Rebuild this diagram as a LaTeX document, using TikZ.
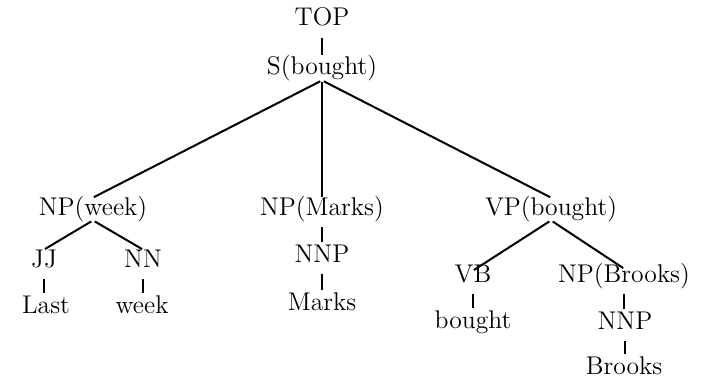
\documentclass[tikz,border=0pt]{standalone}
\usepackage{fontspec}
\tikzset{
  lbl/.style={inner sep=0pt, anchor=base, text height=8.5pt, text depth=2.5pt,
    font=\fontsize{12.8}{14}\selectfont\addfontfeatures{LetterSpace=8,FakeBold=2.5}},
  branch/.style={line width=1pt, shorten <=1pt, shorten >=0.5pt},
  unary/.style={line width=1pt, shorten <=3.5pt, shorten >=1.5pt}
}
\begin{document}
\begin{tikzpicture}[x=0.5pt, y=-0.5pt]
  \useasboundingbox (0,0) rectangle (705,379);
  % nodes placed on their baselines
  \node[lbl] (top)    at (322,26)  {TOP};
  \node[lbl] (s)      at (322,75)  {S(bought)};
  \node[lbl] (npw)    at (93,215)  {NP(week)};
  \node[lbl] (npm)    at (322,215) {NP(Marks)};
  \node[lbl] (vp)     at (551,215) {VP(bought)};
  \node[lbl] (jj)     at (44,267)  {JJ};
  \node[lbl] (nn)     at (143,267) {NN};
  \node[lbl] (last)   at (46,313)  {Last};
  \node[lbl] (week)   at (142,313) {week};
  \node[lbl] (nnpm)   at (322,262) {NNP};
  \node[lbl] (marks)  at (322,310) {Marks};
  \node[lbl] (vb)     at (473,282) {VB};
  \node[lbl] (npb)    at (624,282) {NP(Brooks)};
  \node[lbl] (bought) at (473,328) {bought};
  \node[lbl] (nnpb)   at (625,329) {NNP};
  \node[lbl] (brooks) at (624,374) {Brooks};
  % tree edges
  \draw[unary]  (top.south) -- (top.south |- s.north);
  \draw[branch] (s.south) -- (npw.north);
  \draw[branch] (s.south) -- (npm.north);
  \draw[branch] (s.south) -- (vp.north);
  \draw[branch] (npw.south) -- (jj.north);
  \draw[branch] (npw.south) -- (nn.north);
  \draw[unary]  (jj.south) -- (jj.south |- last.north);
  \draw[unary]  (nn.south) -- (nn.south |- week.north);
  \draw[unary]  (npm.south) -- (npm.south |- nnpm.north);
  \draw[unary]  (nnpm.south) -- (nnpm.south |- marks.north);
  \draw[branch] (vp.south) -- ([yshift=-3pt]vb.north);
  \draw[branch] (vp.south) -- ([yshift=-2pt]npb.north);
  \draw[unary]  (vb.south) -- (vb.south |- bought.north);
  \draw[unary]  (npb.south) -- (npb.south |- nnpb.north);
  \draw[unary]  (nnpb.south) -- (nnpb.south |- brooks.north);
\end{tikzpicture}
\end{document}
